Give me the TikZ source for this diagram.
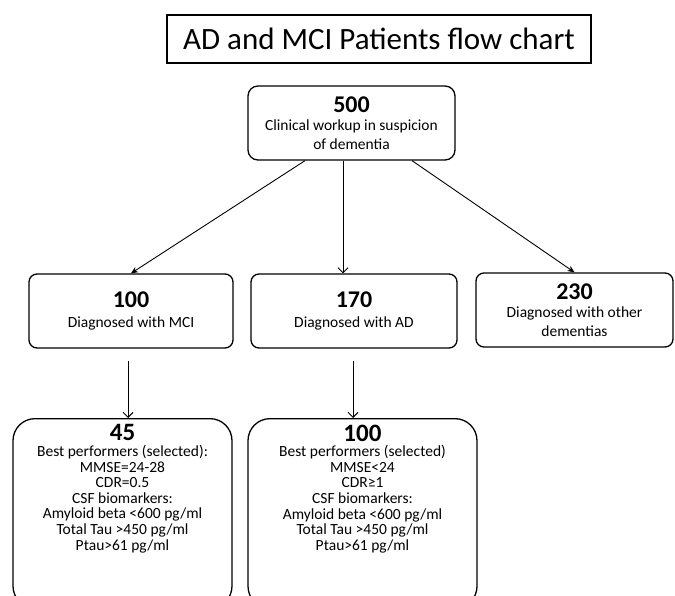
\documentclass[tikz,border=0pt]{standalone}
\usepackage{fontspec}
\setmainfont{Carlito}
\usetikzlibrary{positioning,arrows.meta}

\newcommand{\bignum}[2][24]{{\fontsize{#1}{#1}\selectfont\bfseries #2}}

\begin{document}
\begin{tikzpicture}[x=1pt,y=-1pt,
  fillarrow/.style={-{Stealth[length=7pt,width=6pt]},line width=0.9pt},
  openarrow/.style={-{Straight Barb[length=5pt,width=10pt]},line width=0.9pt},
  titlebox/.style={draw,line width=1.1pt,inner sep=0pt,font=\fontsize{31}{34}\selectfont},
  flowbox/.style={draw,line width=1.3pt,rounded corners=8pt,align=center,inner sep=0pt,
    font=\fontsize{15.5}{18.5}\selectfont},
  selbox/.style={draw,line width=1.3pt,rounded corners=22pt,align=center,inner ysep=6pt,
    anchor=north,text depth=52pt,font=\fontsize{15.5}{15.6}\selectfont}]
\useasboundingbox (0,0) rectangle (675,596);
% title
\node[titlebox,minimum width=424pt,minimum height=48pt] (title) at (379,39) {AD and MCI Patients flow chart};
% first level
\node[flowbox,rounded corners=10pt,minimum width=207pt,minimum height=74pt] (workup) at (351.5,123)
  {\bignum{500}\\ Clinical workup in suspicion\\ of dementia};
% diagnoses
\node[flowbox,minimum width=204pt,minimum height=74pt] (mci) at (131,311) {\bignum{100}\\[2pt] Diagnosed with MCI};
\node[flowbox,minimum width=206pt,minimum height=74pt] (ad) at (354,311) {\bignum{170}\\[2pt] Diagnosed with AD};
\node[flowbox,minimum width=197pt,minimum height=74pt] (other) at (574.5,310) {\bignum{230}\\ Diagnosed with other\\ dementias};
% selected patients
\node[selbox,minimum width=219pt] (sel1) at (122.5,418)
  {\bignum[25]{45}\\ Best performers (selected):\\ MMSE=24-28\\ CDR=0.5\\ CSF biomarkers:\\
   Amyloid beta <600 pg/ml\\ Total Tau >450 pg/ml\\ Ptau>61 pg/ml};
\node[selbox,minimum width=229pt] (sel2) at (362.5,418)
  {\bignum[25]{100}\\ Best performers (selected)\\ MMSE<24\\ CDR≥1\\ CSF biomarkers:\\
   Amyloid beta <600 pg/ml\\ Total Tau >450 pg/ml\\ Ptau>61 pg/ml};
% connectors
\draw[fillarrow] ([xshift=-46.5pt]workup.south) -- (mci.north);
\draw[openarrow] ([xshift=-8.5pt]workup.south) -- ([xshift=-8.5pt]workup.south |- ad.north);
\draw[fillarrow] ([xshift=60.5pt]workup.south) -- (other.north);
\coordinate (d1) at (128,361);
\coordinate (d2) at (353,361);
\draw[openarrow] (d1) -- (d1 |- sel1.north);
\draw[openarrow] (d2) -- (d2 |- sel2.north);
\end{tikzpicture}
\end{document}
